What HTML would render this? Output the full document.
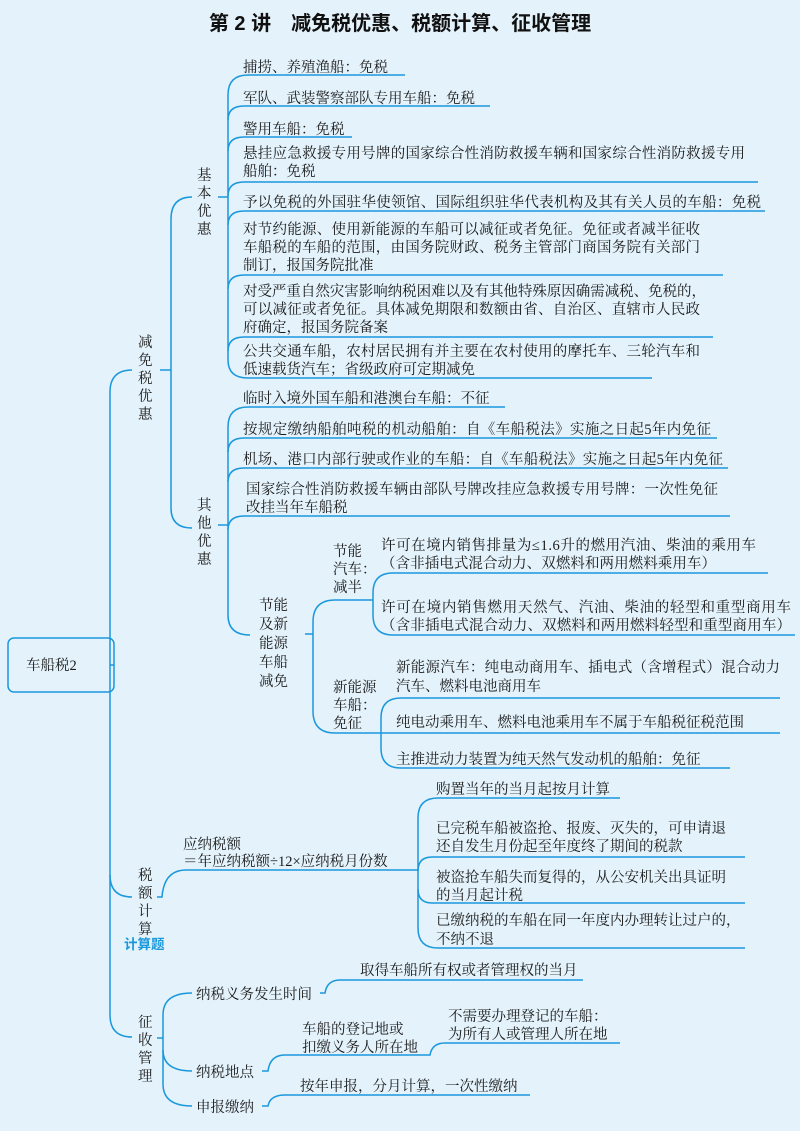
<!DOCTYPE html>
<html><head><meta charset="utf-8"><style>
html,body{margin:0;padding:0;background:#e3f2fb;}
svg{display:block}
text{font-family:"Liberation Serif","Noto Serif CJK SC",serif;font-size:14.5px;fill:#1a1a1a}
.t{font-family:"Liberation Sans","Noto Sans CJK SC",sans-serif;font-weight:bold;font-size:20px;fill:#111}
path,line{stroke:#1a98dc;stroke-width:1.5;fill:none}
</style></head><body>
<svg width="800" height="1131" viewBox="0 0 800 1131" xmlns="http://www.w3.org/2000/svg">
<rect width="800" height="1131" fill="#e3f2fb"/>
<text class="t" x="400" y="30" text-anchor="middle">第 2 讲　减免税优惠、税额计算、征收管理</text>

<!-- root -->
<rect x="8" y="638" width="106" height="54" rx="6" fill="none" stroke="#1a98dc" stroke-width="1.5"/>
<text x="26" y="670">车船税2</text>
<line x1="114" y1="665" x2="110" y2="665"/>
<path d="M132 370 Q110 370 110 392 L110 1015 Q110 1037 132 1037"/>
<path d="M110 875 Q110 897 132 897"/>

<!-- 减免税优惠 -->
<text x="138" y="347">减</text><text x="138" y="365">免</text><text x="138" y="383">税</text><text x="138" y="401">优</text><text x="138" y="419">惠</text>
<line x1="160" y1="370" x2="171" y2="370"/>
<path d="M192 197 Q171 197 171 219 L171 508 Q171 528 192 528"/>

<!-- 基本优惠 -->
<text x="197" y="180">基</text><text x="197" y="198">本</text><text x="197" y="216">优</text><text x="197" y="234">惠</text>
<line x1="218" y1="197" x2="228" y2="197"/>
<path d="M248 75 Q228 75 228 95 L228 360 Q228 378 248 378"/>
<line x1="248" y1="75" x2="405" y2="75"/>
<path d="M228 120 Q228 106 244 106 L490 106"/>
<path d="M228 151 Q228 137 244 137 L352 137"/>
<path d="M228 196 Q228 182 244 182 L758 182"/>
<path d="M228 225 Q228 211 244 211 L765 211"/>
<path d="M228 289 Q228 275 244 275 L723 275"/>
<path d="M228 351 Q228 337 244 337 L713 337"/>
<line x1="248" y1="378" x2="652" y2="378"/>

<text x="243" y="72">捕捞、养殖渔船：免税</text>
<text x="243" y="103">军队、武装警察部队专用车船：免税</text>
<text x="243" y="134">警用车船：免税</text>
<text x="243" y="158" textLength="502" lengthAdjust="spacing">悬挂应急救援专用号牌的国家综合性消防救援车辆和国家综合性消防救援专用</text>
<text x="243" y="176">船舶：免税</text>
<text x="243" y="207" textLength="518" lengthAdjust="spacing">予以免税的外国驻华使领馆、国际组织驻华代表机构及其有关人员的车船：免税</text>
<text x="243" y="234" textLength="457" lengthAdjust="spacing">对节约能源、使用新能源的车船可以减征或者免征。免征或者减半征收</text>
<text x="243" y="252" textLength="457" lengthAdjust="spacing">车船税的车船的范围，由国务院财政、税务主管部门商国务院有关部门</text>
<text x="243" y="270">制订，报国务院批准</text>
<text x="243" y="296" textLength="463" lengthAdjust="spacing">对受严重自然灾害影响纳税困难以及有其他特殊原因确需减税、免税的，</text>
<text x="243" y="314" textLength="457" lengthAdjust="spacing">可以减征或者免征。具体减免期限和数额由省、自治区、直辖市人民政</text>
<text x="243" y="332">府确定，报国务院备案</text>
<text x="243" y="356" textLength="457" lengthAdjust="spacing">公共交通车船，农村居民拥有并主要在农村使用的摩托车、三轮汽车和</text>
<text x="243" y="374">低速载货汽车；省级政府可定期减免</text>

<!-- 其他优惠 -->
<text x="197" y="510">其</text><text x="197" y="528">他</text><text x="197" y="546">优</text><text x="197" y="564">惠</text>
<line x1="218" y1="525" x2="228" y2="525"/>
<path d="M248 407 Q228 407 228 427 L228 615 Q228 635 250 635"/>
<line x1="248" y1="407" x2="505" y2="407"/>
<path d="M228 452 Q228 438 244 438 L717 438"/>
<path d="M228 482 Q228 468 244 468 L728 468"/>
<path d="M228 530 Q228 516 244 516 L730 516"/>
<text x="243" y="403">临时入境外国车船和港澳台车船：不征</text>
<text x="243" y="434" textLength="468" lengthAdjust="spacing">按规定缴纳船舶吨税的机动船舶：自《车船税法》实施之日起5年内免征</text>
<text x="243" y="464" textLength="480" lengthAdjust="spacing">机场、港口内部行驶或作业的车船：自《车船税法》实施之日起5年内免征</text>
<text x="246" y="494" textLength="472" lengthAdjust="spacing">国家综合性消防救援车辆由部队号牌改挂应急救援专用号牌：一次性免征</text>
<text x="246" y="512">改挂当年车船税</text>

<!-- 节能及新能源 -->
<text x="259" y="610">节能</text><text x="259" y="629">及新</text><text x="259" y="648">能源</text><text x="259" y="667">车船</text><text x="259" y="686">减免</text>
<line x1="305" y1="634" x2="313" y2="634"/>
<path d="M335 600 Q313 600 313 622 L313 711 Q313 733 335 733"/>
<line x1="335" y1="600" x2="373" y2="600"/>
<line x1="335" y1="733" x2="381" y2="733"/>
<text x="333" y="556">节能</text><text x="333" y="574">汽车：</text><text x="333" y="592">减半</text>
<path d="M393 573 Q373 573 373 593 L373 615 Q373 635 393 635"/>
<line x1="393" y1="573" x2="768" y2="573"/>
<line x1="393" y1="635" x2="795" y2="635"/>
<text x="381" y="550" textLength="375" lengthAdjust="spacing">许可在境内销售排量为≤1.6升的燃用汽油、柴油的乘用车</text>
<text x="381" y="568" textLength="335" lengthAdjust="spacing">（含非插电式混合动力、双燃料和两用燃料乘用车）</text>
<text x="381" y="612" textLength="410" lengthAdjust="spacing">许可在境内销售燃用天然气、汽油、柴油的轻型和重型商用车</text>
<text x="381" y="630" textLength="410" lengthAdjust="spacing">（含非插电式混合动力、双燃料和两用燃料轻型和重型商用车）</text>

<text x="333" y="692">新能源</text><text x="333" y="710">车船：</text><text x="333" y="728">免征</text>
<path d="M401 698 Q381 698 381 718 L381 748 Q381 768 401 768"/>
<line x1="401" y1="698" x2="780" y2="698"/>
<line x1="381" y1="733" x2="780" y2="733"/>
<line x1="401" y1="768" x2="730" y2="768"/>
<text x="396" y="672" textLength="384" lengthAdjust="spacing">新能源汽车：纯电动商用车、插电式（含增程式）混合动力</text>
<text x="396" y="691">汽车、燃料电池商用车</text>
<text x="396" y="727">纯电动乘用车、燃料电池乘用车不属于车船税征税范围</text>
<text x="396" y="764">主推进动力装置为纯天然气发动机的船舶：免征</text>

<!-- 税额计算 -->
<text x="138" y="880">税</text><text x="138" y="898">额</text><text x="138" y="916">计</text><text x="138" y="934">算</text>
<text x="124" y="949" style="font-family:'Liberation Sans','Noto Sans CJK SC',sans-serif;font-weight:bold;font-size:13.5px;fill:#1a98dc">计算题</text>
<path d="M157 897 L162 897 Q164 870 186 870 L418 870"/>
<text x="183" y="849">应纳税额</text>
<text x="183" y="866">＝年应纳税额÷12×应纳税月份数</text>
<path d="M438 798 Q418 798 418 818 L418 928 Q418 948 438 948"/>
<line x1="438" y1="798" x2="620" y2="798"/>
<path d="M418 871 Q418 857 432 857 L745 857"/>
<path d="M418 889 Q418 903 432 903 L745 903"/>
<line x1="438" y1="948" x2="745" y2="948"/>
<text x="436" y="794">购置当年的当月起按月计算</text>
<text x="436" y="833">已完税车船被盗抢、报废、灭失的，可申请退</text>
<text x="436" y="851">还自发生月份起至年度终了期间的税款</text>
<text x="436" y="882">被盗抢车船失而复得的，从公安机关出具证明</text>
<text x="436" y="900">的当月起计税</text>
<text x="436" y="925">已缴纳税的车船在同一年度内办理转让过户的，</text>
<text x="436" y="944">不纳不退</text>

<!-- 征收管理 -->
<text x="138" y="1027">征</text><text x="138" y="1045">收</text><text x="138" y="1063">管</text><text x="138" y="1081">理</text>
<line x1="157" y1="1038" x2="163" y2="1038"/>
<path d="M192 993 Q163 993 163 1015 L163 1084 Q163 1106 192 1106"/>
<path d="M163 1050 Q163 1071 192 1071"/>
<text x="196" y="999">纳税义务发生时间</text>
<text x="196" y="1077">纳税地点</text>
<text x="196" y="1112">申报缴纳</text>
<path d="M320 993 L325 993 Q327 980 340 980 L583 980"/>
<text x="360" y="975">取得车船所有权或者管理权的当月</text>
<path d="M262 1071 L268 1071 Q270 1055 285 1055 L430 1055 Q432 1043 445 1043 L620 1043"/>
<text x="302" y="1034">车船的登记地或</text>
<text x="302" y="1052">扣缴义务人所在地</text>
<text x="448" y="1021">不需要办理登记的车船：</text>
<text x="448" y="1039">为所有人或管理人所在地</text>
<path d="M262 1106 L268 1106 Q270 1095 285 1095 L530 1095"/>
<text x="300" y="1091">按年申报，分月计算，一次性缴纳</text>
</svg>
</body></html>
